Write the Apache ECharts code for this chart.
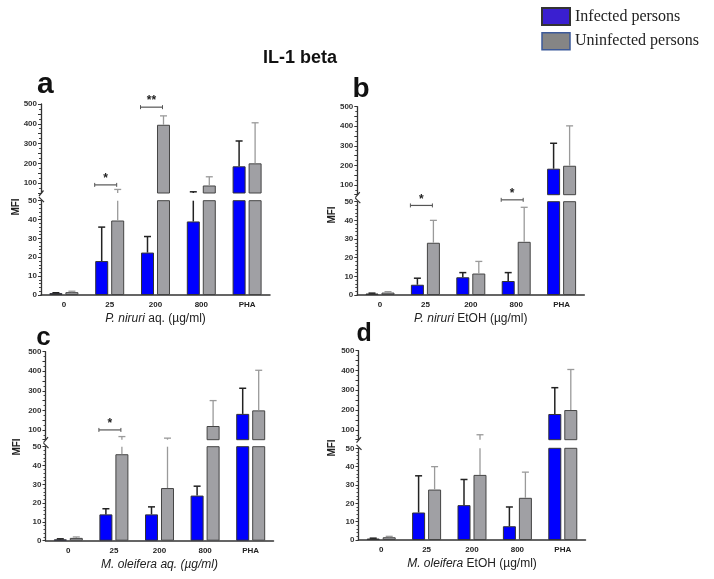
<!DOCTYPE html>
<html>
<head>
<meta charset="utf-8">
<script src="https://cdn.jsdelivr.net/npm/echarts@6/dist/echarts.min.js"></script>
<style>html,body{margin:0;padding:0;background:#fff;}#c{width:714px;height:579px;}</style>
</head>
<body>
<div id="c"></div>
<script>
// ---------- data ----------
const categories = ['0', '25', '200', '800', 'PHA'];
const upperTicks = [100, 200, 300, 400, 500];
const lowerTicks = [0, 10, 20, 30, 40, 50];

// panel a: P. niruri aq.
const aInfected = [1, 18, 22.5, 39, 185];
const aInfectedErr = [1.2, 36, 31, 56, 313];
const aUninfected = [1.5, 39.5, 395, 88, 200];
const aUninfectedErr = [2, 68, 440, 132, 405];
// panel b: P. niruri EtOH
const bInfected = [0.8, 5.5, 9.5, 7.5, 183];
const bInfectedErr = [1, 9, 12, 12, 313];
const bUninfected = [1.3, 28, 11.5, 28.5, 198];
const bUninfectedErr = [1.8, 40, 18, 47, 402];
// panel c: M. oleifera aq.
const cInfected = [0.7, 14, 14, 24, 182];
const cInfectedErr = [1, 17, 18, 29, 313];
const cUninfected = [1.5, 46, 28, 120, 200];
const cUninfectedErr = [2, 66, 58, 250, 405];
// panel d: M. oleifera EtOH
const dInfected = [0.8, 15, 19, 7.5, 180];
const dInfectedErr = [1, 35, 33, 18, 313];
const dUninfected = [1.5, 27.5, 35.5, 23, 200];
const dUninfectedErr = [2, 40, 75, 37, 405];

// significance annotations
const sigPanel = ['a', 'a', 'b', 'b', 'c'];
const sigCategory = [1, 2, 1, 3, 1];
const sigLevel = [91, 484, 48, 51, 100];
const sigSegment = ['upper', 'upper', 'lower', 'lower', 'upper'];
const sigText = ['*', '**', '*', '*', '*'];

const seriesNames = ['Infected persons', 'Uninfected persons'];

// ---------- layout (styling only) ----------
const layout = {
  a: {left: 41, width: 229, upTop: 104, upH: 89, loTop: 200.7, loH: 94.3,
      name: '{i|P. niruri} aq. (µg/ml)', letter: {x: 46, y: 88, size: 30}, mfi: {x: 16, y: 207}},
  b: {left: 357.3, width: 227, upTop: 106.7, upH: 88, loTop: 201.7, loH: 93.3,
      name: '{i|P. niruri} EtOH (µg/ml)', letter: {x: 361, y: 93, size: 28}, mfi: {x: 332, y: 215}},
  c: {left: 45.5, width: 228, upTop: 351.7, upH: 88, loTop: 446.7, loH: 94,
      name: '{i|M. oleifera aq. (µg/ml)}', letter: {x: 44, y: 341, size: 26}, mfi: {x: 17, y: 447}},
  d: {left: 358.5, width: 227, upTop: 350.7, upH: 89, loTop: 448.3, loH: 91.7,
      name: '{i|M. oleifera} EtOH (µg/ml)', letter: {x: 364, y: 337, size: 25}, mfi: {x: 332, y: 448}}
};
const panelData = {
  a: [aInfected, aInfectedErr, aUninfected, aUninfectedErr],
  b: [bInfected, bInfectedErr, bUninfected, bUninfectedErr],
  c: [cInfected, cInfectedErr, cUninfected, cUninfectedErr],
  d: [dInfected, dInfectedErr, dUninfected, dUninfectedErr]
};
const panelIds = ['a', 'b', 'c', 'd'];

const BLUE = '#0000ff';
const GRAY = '#a0a0a4';
const BAR_W = 13;
const BAR_OFF = 8;
const FONT = 'Liberation Sans, Arial, sans-serif';

function errRender(offset, color, lw) {
  return function (params, api) {
    const i = api.value(0), v = api.value(1), e = api.value(2);
    const cs = params.coordSys;
    const p0 = api.coord([i, v]);
    const p1 = api.coord([i, e]);
    const x = p0[0] + offset;
    const top = cs.y, bot = cs.y + cs.height;
    const y0 = Math.min(Math.max(p0[1], top), bot);
    const y1 = Math.min(Math.max(p1[1], top), bot);
    const children = [];
    if (y0 !== y1) {
      children.push({type: 'line', shape: {x1: x, y1: y0, x2: x, y2: y1},
        style: {stroke: color, lineWidth: lw}});
    }
    if (p1[1] >= top - 0.5 && p1[1] <= bot + 0.5) {
      children.push({type: 'line', shape: {x1: x - 3.5, y1: p1[1], x2: x + 3.5, y2: p1[1]},
        style: {stroke: color, lineWidth: lw}});
    }
    return {type: 'group', children: children};
  };
}

const grids = [], xAxes = [], yAxes = [], series = [];
panelIds.forEach(function (pid, k) {
  const L = layout[pid];
  const d = panelData[pid];
  ['upper', 'lower'].forEach(function (seg) {
    const idx = grids.length;
    const isUp = seg === 'upper';
    grids.push({left: L.left, width: L.width, top: isUp ? L.upTop : L.loTop,
      height: isUp ? L.upH : L.loH, containLabel: false});
    xAxes.push({type: 'category', gridIndex: idx, data: categories,
      show: !isUp,
      axisLine: {show: !isUp, lineStyle: {color: '#333', width: 1.5}},
      axisTick: {show: false},
      axisLabel: {show: !isUp, fontSize: 8, fontWeight: 'bold', color: '#222', fontFamily: FONT, margin: 6},
      name: isUp ? '' : L.name, nameLocation: 'middle', nameGap: 18,
      nameTextStyle: {fontSize: 12, color: '#222', fontFamily: FONT,
        rich: {i: {fontStyle: 'italic', fontSize: 12, color: '#222', fontFamily: FONT}}}
    });
    const ticks = isUp ? upperTicks : lowerTicks;
    yAxes.push({type: 'value', gridIndex: idx,
      min: isUp ? 50 : ticks[0], max: ticks[ticks.length - 1],
      interval: isUp ? 50 : 10,
      axisLine: {show: true, lineStyle: {color: '#333', width: 1.3}},
      axisTick: {show: true, length: 3, lineStyle: {color: '#333'}},
      minorTick: {show: true, splitNumber: isUp ? 2 : 5, length: 2, lineStyle: {color: '#444'}},
      splitLine: {show: false},
      axisLabel: {fontSize: 8, fontWeight: 'bold', color: '#333', fontFamily: FONT, margin: 4,
        formatter: function (v) { return ticks.indexOf(v) >= 0 ? String(v) : ''; }}
    });
    series.push({type: 'bar', name: seriesNames[0], xAxisIndex: idx, yAxisIndex: idx,
      data: d[0], barWidth: BAR_W, barGap: '23%', clip: true,
      itemStyle: {color: BLUE, borderColor: '#333', borderWidth: 1}});
    series.push({type: 'bar', name: seriesNames[1], xAxisIndex: idx, yAxisIndex: idx,
      data: d[2], barWidth: BAR_W, barGap: '23%', clip: true,
      itemStyle: {color: GRAY, borderColor: '#444', borderWidth: 1}});
    series.push({type: 'custom', name: seriesNames[0], xAxisIndex: idx, yAxisIndex: idx, z: 5,
      renderItem: errRender(-BAR_OFF, '#222', 1.5),
      data: d[0].map(function (v, i) { return [i, v, d[1][i]]; })});
    series.push({type: 'custom', name: seriesNames[1], xAxisIndex: idx, yAxisIndex: idx, z: 5,
      renderItem: errRender(BAR_OFF, '#9a9a9a', 1.3),
      data: d[2].map(function (v, i) { return [i, v, d[3][i]]; })});
  });
});

const chart = echarts.init(document.getElementById('c'), null, {renderer: 'canvas'});
chart.setOption({
  animation: false,
  backgroundColor: '#fff',
  title: {text: 'IL-1 beta', left: 263, top: 49, padding: 0,
    textStyle: {fontSize: 18, fontWeight: 'bold', color: '#111', fontFamily: FONT}},
  legend: {orient: 'vertical', left: 541, top: 7, padding: 0, itemWidth: 28, itemHeight: 17, itemGap: 6,
    icon: 'rect',
    textStyle: {fontFamily: 'Liberation Serif, Times New Roman, serif', fontSize: 16, color: '#222'},
    data: [
      {name: seriesNames[0], itemStyle: {color: '#3a1fd0'}},
      {name: seriesNames[1], itemStyle: {color: '#858585', borderColor: '#3d5a99', borderWidth: 1.5}}
    ]},
  grid: grids, xAxis: xAxes, yAxis: yAxes, series: series
});

// ---------- annotations ----------
const graphics = [];
panelIds.forEach(function (pid, k) {
  const L = layout[pid];
  graphics.push({type: 'text', left: L.letter.x - L.letter.size * 0.3, top: L.letter.y - L.letter.size * 0.62,
    style: {text: pid, fontSize: L.letter.size, fontWeight: 'bold', fill: '#111', fontFamily: FONT}});
  graphics.push({type: 'text', x: L.mfi.x, y: L.mfi.y, rotation: Math.PI / 2,
    style: {text: 'MFI', fontSize: 10, fontWeight: 'bold', fill: '#222', fontFamily: FONT,
      align: 'center', verticalAlign: 'middle'}});
  // axis break marks
  const up = 2 * k, lo = 2 * k + 1;
  const pUp = chart.convertToPixel({xAxisIndex: up, yAxisIndex: up}, [0, 50]);
  const pLo = chart.convertToPixel({xAxisIndex: lo, yAxisIndex: lo}, [0, 50]);
  const ax = L.left;
  graphics.push({type: 'line', shape: {x1: ax - 2, y1: pUp[1] + 3, x2: ax + 2.5, y2: pUp[1] - 2.5},
    style: {stroke: '#333', lineWidth: 1.2}});
  graphics.push({type: 'line', shape: {x1: ax - 2, y1: pLo[1] - 3.5, x2: ax + 3, y2: pLo[1] + 1.5},
    style: {stroke: '#333', lineWidth: 1.2}});
});
sigPanel.forEach(function (pid, n) {
  const k = panelIds.indexOf(pid);
  const ai = sigSegment[n] === 'upper' ? 2 * k : 2 * k + 1;
  const p = chart.convertToPixel({xAxisIndex: ai, yAxisIndex: ai}, [sigCategory[n], sigLevel[n]]);
  const x1 = p[0] - 15, x2 = p[0] + 7, y = p[1];
  graphics.push({type: 'line', shape: {x1: x1, y1: y, x2: x2, y2: y}, style: {stroke: '#555', lineWidth: 1.2}});
  graphics.push({type: 'line', shape: {x1: x1, y1: y - 2, x2: x1, y2: y + 2}, style: {stroke: '#555', lineWidth: 1}});
  graphics.push({type: 'line', shape: {x1: x2, y1: y - 2, x2: x2, y2: y + 2}, style: {stroke: '#555', lineWidth: 1}});
  graphics.push({type: 'text', x: (x1 + x2) / 2, y: y,
    style: {text: sigText[n], fontSize: 12, fontWeight: 'bold', fill: '#222', fontFamily: FONT,
      align: 'center', verticalAlign: 'bottom'}});
});
chart.setOption({graphic: graphics});
</script>
</body>
</html>
